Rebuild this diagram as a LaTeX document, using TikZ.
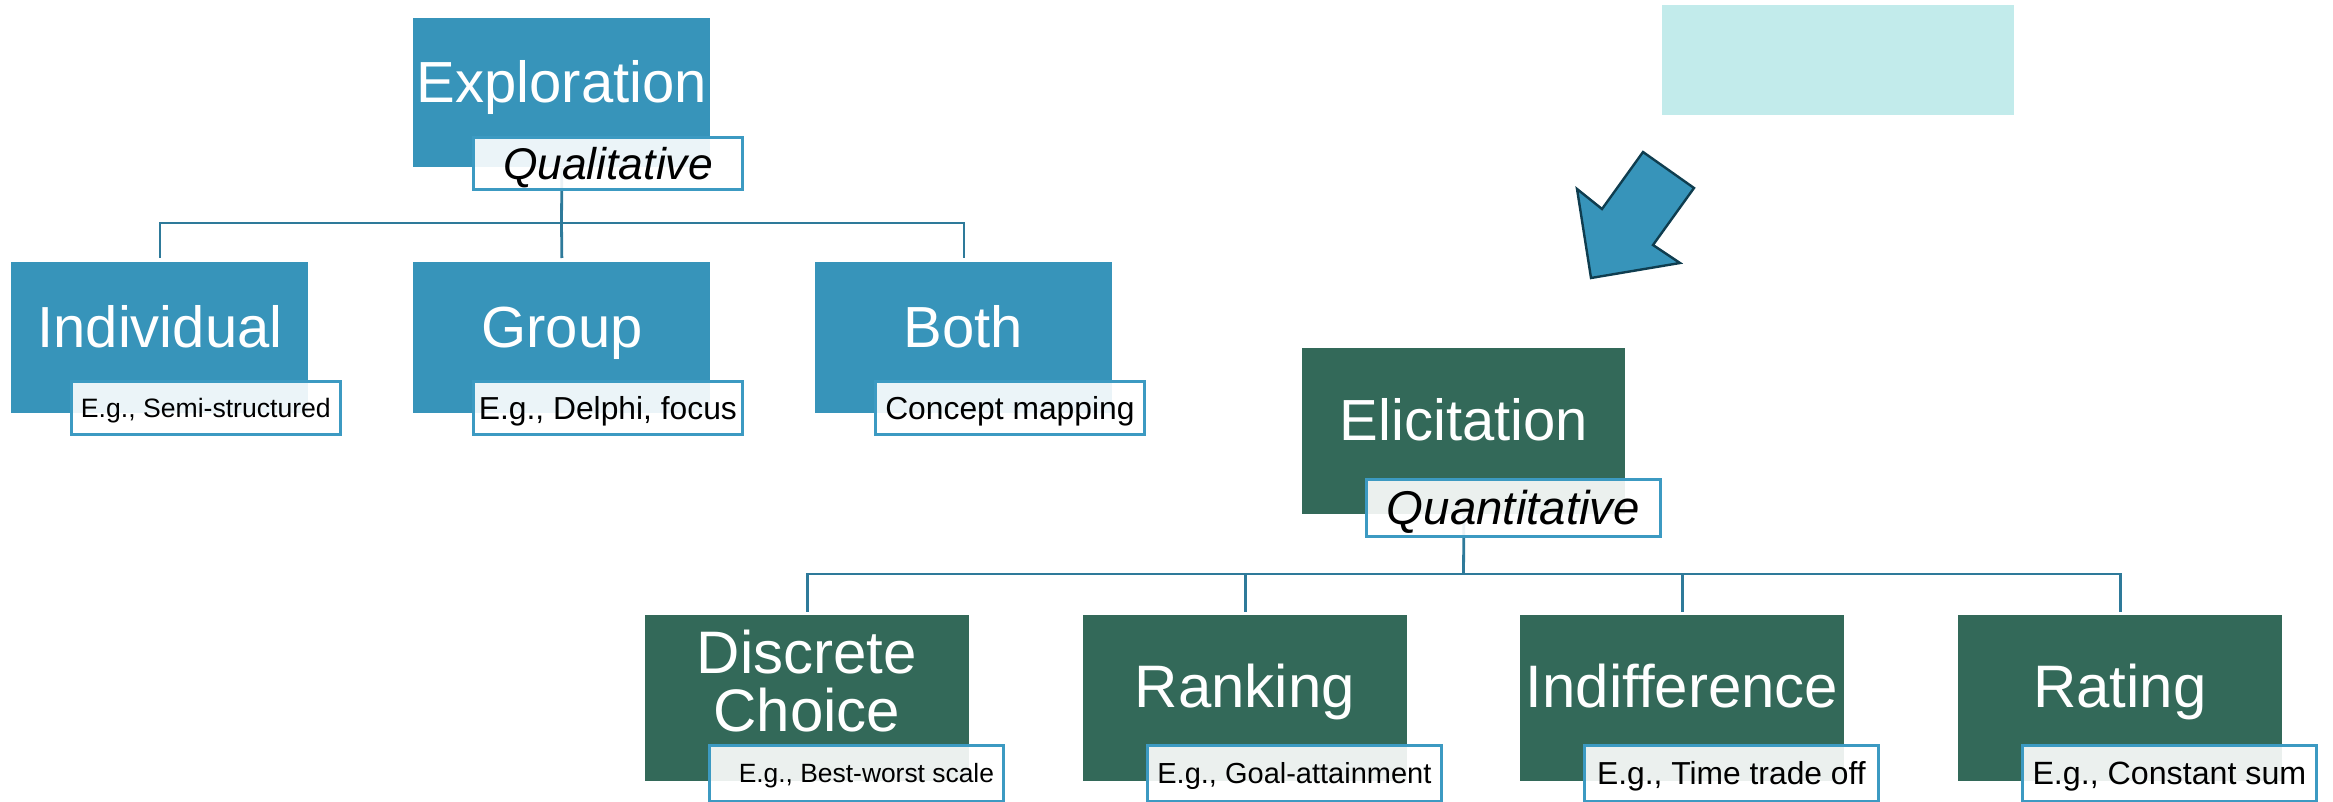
\documentclass[tikz,border=0pt]{standalone}
\usepackage{fontspec}
\setmainfont{Liberation Sans}
\definecolor{cblue}{HTML}{3794BA}
\definecolor{cgreen}{HTML}{336959}
\definecolor{cline}{HTML}{2E7A9A}
\definecolor{cborder}{HTML}{3C9AC2}
\definecolor{ccyan}{HTML}{C2EBEB}
\definecolor{carrow}{HTML}{0F3D4F}
\begin{document}
\begin{tikzpicture}[x=0.5pt,y=-0.5pt,
  wh/.style 2 args={minimum width=#1*0.5pt, minimum height=#2*0.5pt},
  bluebox/.style={fill=cblue, draw=none, anchor=north west, inner sep=0pt},
  greenbox/.style={fill=cgreen, draw=none, anchor=north west, inner sep=0pt},
  tagbox/.style={fill=white, fill opacity=0.9, text opacity=1, draw=cborder, line width=1.4pt,
     anchor=north west, inner sep=0pt},
  title/.style={text=white, anchor=base, inner sep=0pt},
  conn/.style={draw=cline, line width=1.4pt},
  fsz/.style={font=\fontsize{#1}{#1}\selectfont, text height=0.716*#1pt, text depth=0pt}
]
\useasboundingbox (0,0) rectangle (2333,802);

% placeholder rectangle and arrow
\node[fill=ccyan, anchor=north west, inner sep=0pt, wh={352}{110}] (ph) at (1662,5) {};
\draw[fill=cblue, draw=carrow, line width=1.2pt, line join=miter]
  (1643,152) -- (1694,188) -- (1653,245) -- (1680,263) -- (1591,278) -- (1577,189) -- (1602,209) -- cycle;

% ---------- Exploration tree ----------
\node[bluebox, wh={297}{149}] (expl) at (413,18) {};
\node[bluebox, wh={297}{151}] (indiv) at (11,262) {};
\node[bluebox, wh={297}{151}] (group) at (413,262) {};
\node[bluebox, wh={297}{151}] (both) at (815,262) {};

\coordinate (ebar) at (561.5,223);
\draw[conn] (expl.south) -- (ebar);
\draw[conn, shorten >=2pt] (ebar) -| (indiv.north);
\draw[conn, shorten >=2pt] (ebar) -- (group.north);
\draw[conn, shorten >=2pt] (ebar) -| (both.north);

\node[title, fsz=29] (t-expl) at (562,103) {Exploration};
\node[title, fsz=29] (t-indiv) at (160,347) {Individual};
\node[title, fsz=29] (t-group) at (562,347) {Group};
\node[title, fsz=29] (t-both) at (963,347) {Both};

\node[tagbox, wh={269}{52}, fsz=22.2] (l-qual) at (472,136) {\itshape Qualitative};
\node[tagbox, wh={269}{53}, fsz=13.3] (l-indiv) at (70,380) {E.g., Semi-structured};
\node[tagbox, wh={269}{53}, fsz=15.9] (l-group) at (472,380) {E.g., Delphi, focus};
\node[tagbox, wh={269}{53}, fsz=15.9] (l-both) at (874,380) {Concept mapping};

% ---------- Elicitation tree ----------
\node[greenbox, wh={323}{166}] (elic) at (1302,348) {};
\node[greenbox, wh={324}{166}] (dc) at (645,615) {};
\node[greenbox, wh={324}{166}] (rank) at (1083,615) {};
\node[greenbox, wh={324}{166}] (indif) at (1520,615) {};
\node[greenbox, wh={324}{166}] (rate) at (1958,615) {};

\coordinate (qbar) at (1463.5,574);
\draw[conn] (elic.south) -- (qbar);
\draw[conn, shorten >=1.5pt] (qbar) -| (dc.north);
\draw[conn, shorten >=1.5pt] (qbar) -| (rank.north);
\draw[conn, shorten >=1.5pt] (qbar) -| (indif.north);
\draw[conn, shorten >=1.5pt] (qbar) -| (rate.north);

\node[title, fsz=29] (t-elic) at (1464,440) {Elicitation};
\node[title, fsz=30] (t-dc1) at (807,673) {Discrete};
\node[title, fsz=30] (t-dc2) at (807,731) {Choice};
\node[title, fsz=30] (t-rank) at (1245,707) {Ranking};
\node[title, fsz=30] (t-indif) at (1682,707) {Indifference};
\node[title, fsz=30] (t-rate) at (2120,707) {Rating};

\node[tagbox, wh={294}{57}, fsz=23.7] (l-quant) at (1365,478) {\itshape Quantitative};
\node[tagbox, wh={294}{56}, fsz=13.2] (l-dc) at (708,744) {\hspace*{10pt}E.g., Best-worst scale};
\node[tagbox, wh={294}{56}, fsz=14.5] (l-rank) at (1146,744) {E.g., Goal-attainment};
\node[tagbox, wh={294}{56}, fsz=15.9] (l-indif) at (1583,744) {E.g., Time trade off};
\node[tagbox, wh={294}{56}, fsz=16.1] (l-rate) at (2021,744) {E.g., Constant sum};
\end{tikzpicture}
\end{document}
